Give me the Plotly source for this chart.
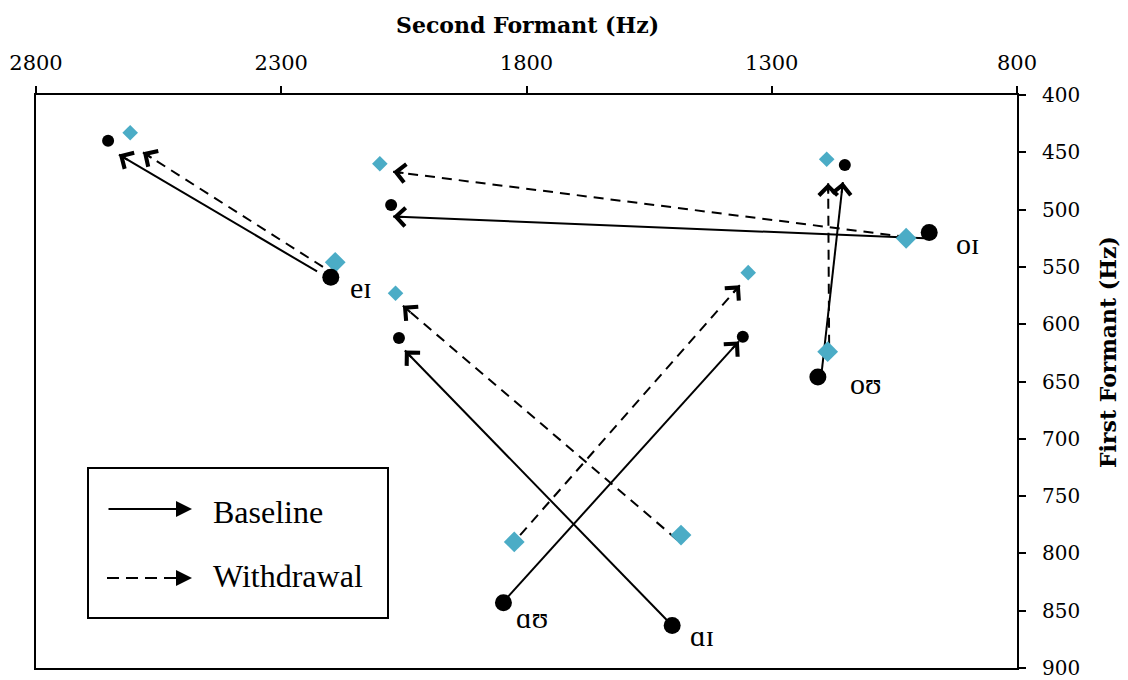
import math
import plotly.graph_objects as go

# ---------------- data (Hz) ----------------
vowels = ["eɪ", "oɪ", "oʊ", "ɑʊ", "ɑɪ"]

base_on_f2 = [2199, 979, 1206, 1847, 1503]
base_on_f1 = [559, 520, 646, 843, 863]
base_off_f2 = [2653, 2076, 1151, 1359, 2060]
base_off_f1 = [440, 496, 461, 611, 612]

wd_on_f2 = [2190, 1026, 1186, 1825, 1485]
wd_on_f1 = [546, 525, 624, 790, 784]
wd_off_f2 = [2608, 2099, 1188, 1348, 2067]
wd_off_f1 = [433, 460, 456, 555, 573]

# arrow start / tip positions (Hz)
base_arr_start_f2 = [2227, 988, 1198, 1838, 1512]
base_arr_start_f1 = [554, 525, 641, 838, 859]
base_arr_end_f2 = [2631, 2072, 1155, 1367, 2048]
base_arr_end_f1 = [452, 506, 476, 615, 623]
wd_arr_start_f2 = [2215, 1024, 1183, 1813, 1493]
wd_arr_start_f1 = [550, 524, 618, 784, 788]
wd_arr_end_f2 = [2582, 2072, 1185, 1365, 2052]
wd_arr_end_f1 = [450, 467, 477, 566, 584]

f2_ticks = [2800, 2300, 1800, 1300, 800]
f1_ticks = [400, 450, 500, 550, 600, 650, 700, 750, 800, 850, 900]

# ---------------- layout geometry ----------------
W, H = 1128, 680
ML, MR, MT, MB = 36, 111, 95, 12
PW, PH = W - ML - MR, H - MT - MB
F2_RANGE = [2800, 800]
F1_RANGE = [900, 400]
XS = PW / (F2_RANGE[0] - F2_RANGE[1])
YS = PH / (F1_RANGE[0] - F1_RANGE[1])

BLUE = "#4BACC6"
SERIF = "Liberation Serif, DejaVu Serif, serif"
TICKFONT = "DejaVu Serif, serif"


def px_x(p):
    return (p - ML) / PW


def px_y(p):
    return (H - MB - p) / PH


fig = go.Figure()

# lines
for i in range(len(vowels)):
    fig.add_trace(go.Scatter(
        x=[wd_arr_start_f2[i], wd_arr_end_f2[i]],
        y=[wd_arr_start_f1[i], wd_arr_end_f1[i]],
        mode="lines", line=dict(color="black", width=2, dash="10px,7px"),
        hoverinfo="skip", showlegend=False))
    fig.add_trace(go.Scatter(
        x=[base_arr_start_f2[i], base_arr_end_f2[i]],
        y=[base_arr_start_f1[i], base_arr_end_f1[i]],
        mode="lines", line=dict(color="black", width=2),
        hoverinfo="skip", showlegend=False))

# markers
fig.add_trace(go.Scatter(x=wd_off_f2, y=wd_off_f1, mode="markers",
                         marker=dict(symbol="diamond", size=12, color=BLUE),
                         showlegend=False))
fig.add_trace(go.Scatter(x=wd_on_f2, y=wd_on_f1, mode="markers",
                         marker=dict(symbol="diamond", size=16, color=BLUE),
                         showlegend=False))
fig.add_trace(go.Scatter(x=base_off_f2, y=base_off_f1, mode="markers",
                         marker=dict(symbol="circle", size=12, color="black"),
                         showlegend=False))
fig.add_trace(go.Scatter(x=base_on_f2, y=base_on_f1, mode="markers",
                         marker=dict(symbol="circle", size=17, color="black"),
                         showlegend=False))


def add_head(xe, ye, xs0, ys0):
    dx = (xe - xs0) * XS
    dy = (ys0 - ye) * YS
    L = math.hypot(dx, dy)
    fig.add_annotation(x=xe, y=ye, xref="x", yref="y",
                       ax=dx / L * 12, ay=dy / L * 12,
                       text="", showarrow=True, arrowhead=4,
                       arrowsize=1.8, arrowwidth=2, arrowcolor="black")


for i in range(len(vowels)):
    add_head(base_arr_end_f2[i], base_arr_end_f1[i], base_arr_start_f2[i], base_arr_start_f1[i])
    add_head(wd_arr_end_f2[i], wd_arr_end_f1[i], wd_arr_start_f2[i], wd_arr_start_f1[i])

# vowel labels
label_dx = [30, 38, 48, 29, 30]
label_dy = [-10, -11, -7, -15, -10]
for i, v in enumerate(vowels):
    fig.add_annotation(x=base_on_f2[i], y=base_on_f1[i], xref="x", yref="y",
                       text=v, showarrow=False, xshift=label_dx[i], yshift=label_dy[i],
                       font=dict(family=SERIF, size=30, color="black"))

# legend box
fig.add_shape(type="rect", xref="paper", yref="paper",
              x0=px_x(88), x1=px_x(388), y0=px_y(618), y1=px_y(468),
              line=dict(color="black", width=2), fillcolor="white", layer="above")
fig.add_annotation(xref="paper", yref="paper", x=px_x(192), y=px_y(509),
                   ax=-85, ay=0, text="", showarrow=True, arrowhead=2,
                   arrowsize=1.6, arrowwidth=2, arrowcolor="black")
fig.add_shape(type="line", xref="paper", yref="paper",
              x0=px_x(107), x1=px_x(182), y0=px_y(578), y1=px_y(578),
              line=dict(color="black", width=2, dash="12px,7px"), layer="above")
fig.add_annotation(xref="paper", yref="paper", x=px_x(192), y=px_y(578),
                   ax=-14, ay=0, text="", showarrow=True, arrowhead=2,
                   arrowsize=1.6, arrowwidth=2, arrowcolor="black")
fig.add_annotation(xref="paper", yref="paper", x=px_x(211), y=px_y(512),
                   xanchor="left", yanchor="middle", text="Baseline", showarrow=False,
                   font=dict(family=SERIF, size=32, color="black"))
fig.add_annotation(xref="paper", yref="paper", x=px_x(211), y=px_y(576),
                   xanchor="left", yanchor="middle", text="Withdrawal", showarrow=False,
                   font=dict(family=SERIF, size=32, color="black"))

# axis titles
fig.add_annotation(xref="paper", yref="paper", x=px_x(527), y=px_y(25),
                   xanchor="center", yanchor="middle", text="<b>Second Formant (Hz)</b>",
                   showarrow=False, font=dict(family=TICKFONT, size=22, color="black"))
fig.add_annotation(xref="paper", yref="paper", x=px_x(1108), y=px_y(352),
                   xanchor="center", yanchor="middle", text="<b>First Formant (Hz)</b>",
                   textangle=-90, showarrow=False,
                   font=dict(family=TICKFONT, size=22, color="black"))

fig.update_layout(
    width=W, height=H,
    margin=dict(l=ML, r=MR, t=MT, b=MB, pad=0, autoexpand=False),
    paper_bgcolor="white", plot_bgcolor="white",
    showlegend=False,
    xaxis=dict(side="top", range=F2_RANGE, tickvals=f2_ticks,
               ticktext=[str(t) for t in f2_ticks], automargin=False,
               ticks="outside", ticklen=7, tickwidth=1.5, tickcolor="black",
               showline=True, linecolor="black", linewidth=2, mirror=True,
               showgrid=False, zeroline=False, ticklabelstandoff=8,
               ticklabeloverflow="allow",
               tickfont=dict(family=TICKFONT, size=21, color="black")),
    yaxis=dict(side="right", range=F1_RANGE, tickvals=f1_ticks,
               ticktext=[str(t) for t in f1_ticks], automargin=False,
               ticks="outside", ticklen=7, tickwidth=1.5, tickcolor="black",
               showline=True, linecolor="black", linewidth=2, mirror=True,
               showgrid=False, zeroline=False, ticklabelstandoff=12,
               ticklabeloverflow="allow",
               tickfont=dict(family=TICKFONT, size=20, color="black")),
)

fig.write_html("out.html", config={"displayModeBar": False},
               post_script="document.body.style.margin='0';document.body.style.overflow='hidden';")
